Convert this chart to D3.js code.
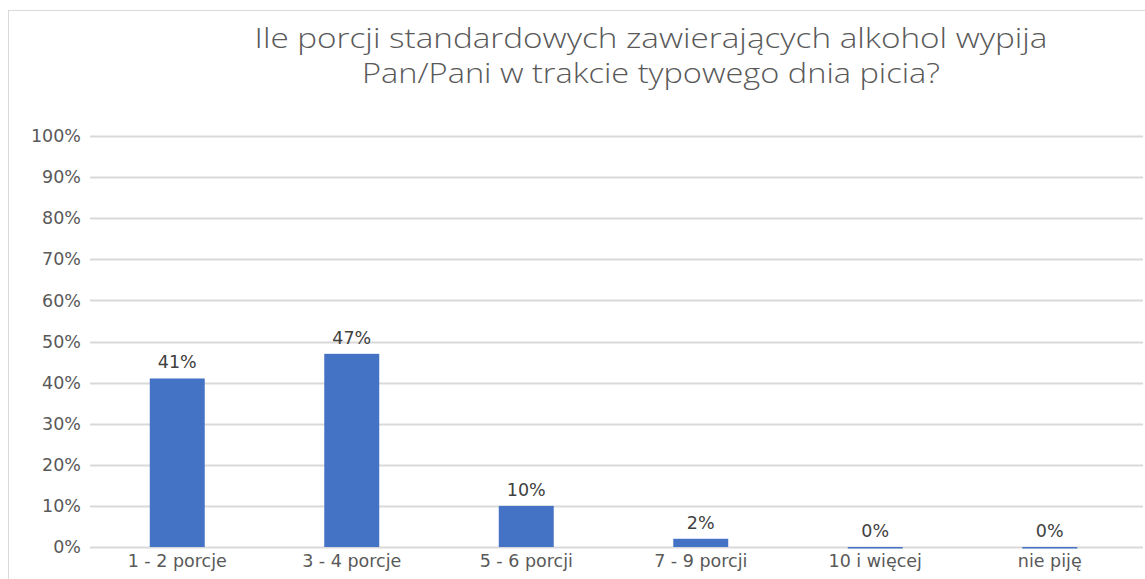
<!DOCTYPE html>
<html>
<head>
<meta charset="utf-8">
<script src="https://cdn.jsdelivr.net/npm/d3@7"></script>
<style>
  body { margin: 0; background: #fff; }
</style>
</head>
<body>
<script>
// chart data
var categories = ["1 - 2 porcje", "3 - 4 porcje", "5 - 6 porcji", "7 - 9 porcji", "10 i więcej", "nie piję"];
var values = [41, 47, 10, 2, 0, 0];
var yTicks = [0, 10, 20, 30, 40, 50, 60, 70, 80, 90, 100];
var titleLines = ["Ile porcji standardowych zawierających alkohol wypija", "Pan/Pani w trakcie typowego dnia picia?"];

var width = 1145;
var height = 579;

var svg = d3.select("body")
    .append("svg")
    .attr("width", width)
    .attr("height", height);

// chart frame
svg.append("rect")
    .attr("x", 8.5)
    .attr("y", 10.5)
    .attr("width", width + 20)
    .attr("height", height + 20)
    .attr("fill", "#fff")
    .attr("stroke", "#d9d9d9")
    .attr("stroke-width", 1);

var x = d3.scaleBand()
    .domain(categories)
    .range([90, 1137])
    .paddingInner(0.685)
    .paddingOuter(0.3425);

var y = d3.scaleLinear()
    .domain([0, 100])
    .range([547, 136]);

// gridlines
svg.append("g")
    .selectAll("line")
    .data(yTicks)
    .enter().append("line")
    .attr("x1", 90)
    .attr("x2", 1143)
    .attr("y1", function(d) { return Math.round(y(d)) + 0.5; })
    .attr("y2", function(d) { return Math.round(y(d)) + 0.5; })
    .attr("stroke", "#d9d9d9")
    .attr("stroke-width", 2);

// y axis labels
var yAxis = svg.append("g")
    .attr("transform", "translate(90,0)")
    .call(d3.axisLeft(y)
        .tickValues(yTicks)
        .tickSize(0)
        .tickPadding(9)
        .tickFormat(function(d) { return d + "%"; }));
yAxis.select(".domain").remove();
yAxis.selectAll("text")
    .attr("fill", "#595959")
    .attr("font-family", "DejaVu Sans")
    .attr("font-size", "17.5px");

// bars
svg.append("g")
    .selectAll("rect")
    .data(values)
    .enter().append("rect")
    .attr("x", function(d, i) { return x(categories[i]); })
    .attr("y", function(d) { return y(d); })
    .attr("width", x.bandwidth())
    .attr("height", function(d) { return Math.max(1.5, y(0) - y(d)); })
    .attr("fill", "#4472c4");

// value labels
svg.append("g")
    .selectAll("text")
    .data(values)
    .enter().append("text")
    .attr("x", function(d, i) { return x(categories[i]) + x.bandwidth() / 2; })
    .attr("y", function(d) { return y(d) - 10; })
    .attr("text-anchor", "middle")
    .attr("fill", "#404040")
    .attr("font-family", "DejaVu Sans")
    .attr("font-size", "17.5px")
    .text(function(d) { return d + "%"; });

// x axis labels
var xAxis = svg.append("g")
    .attr("transform", "translate(0,547)")
    .call(d3.axisBottom(x).tickSize(0).tickPadding(8));
xAxis.select(".domain").remove();
xAxis.selectAll("text")
    .attr("fill", "#595959")
    .attr("font-family", "DejaVu Sans")
    .attr("font-size", "17.5px");

// title
svg.append("g")
    .selectAll("text")
    .data(titleLines)
    .enter().append("text")
    .attr("x", 651)
    .attr("y", function(d, i) { return 48 + i * 35; })
    .attr("text-anchor", "middle")
    .attr("fill", "#595959")
    .attr("font-family", "Open Sans")
    .attr("font-weight", 300)
    .attr("font-size", "28px")
    .attr("textLength", function(d, i) { return i === 0 ? 793 : 578; })
    .attr("lengthAdjust", "spacingAndGlyphs")
    .text(function(d) { return d; });
</script>
</body>
</html>
